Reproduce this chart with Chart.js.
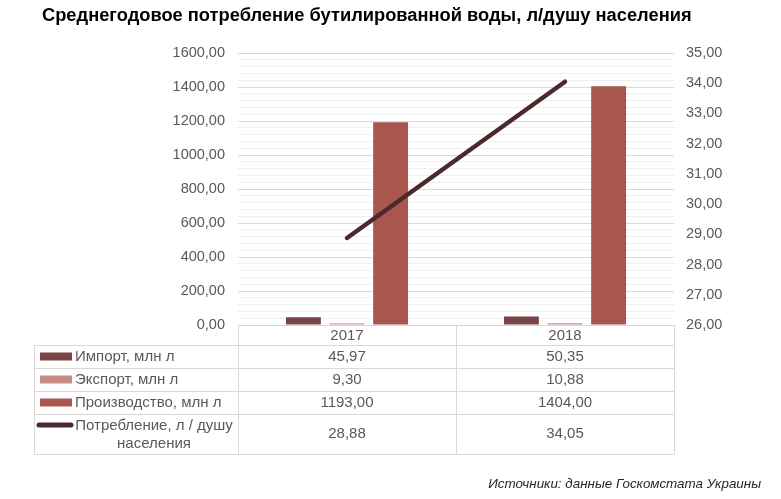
<!DOCTYPE html>
<html>
<head>
<meta charset="utf-8">
<style>
  html, body { margin: 0; padding: 0; background: #fff; }
  #wrap { position: relative; width: 781px; height: 499px; }
</style>
</head>
<body>
<div id="wrap"><canvas id="myChart" width="781" height="499"></canvas></div>

<script src="https://cdn.jsdelivr.net/npm/chart.js"></script>
<script>
  // data
  const years = ['2017', '2018'];
  const importVals = [45.97, 50.35];
  const exportVals = [9.30, 10.88];
  const productionVals = [1193.00, 1404.00];
  const consumptionVals = [28.88, 34.05];

  const seriesNames = ['Импорт, млн л', 'Экспорт, млн л', 'Производство, млн л', ['Потребление, л / душу', 'населения']];
  const titleText = 'Среднегодовое потребление бутилированной воды, л/душу населения';
  const sourceText = 'Источники: данные Госкомстата Украины';

  const colors = ['#7b4548', '#c98c85', '#a9564e', '#4a2a2c'];
  const FONT = '"Liberation Sans", Arial, sans-serif';
  const GRAY = '#595959';

  function fmt(v) {
    return v.toFixed(2).replace('.', ',');
  }

  // draws the title, the data table under the plot and the source note
  const tablePlugin = {
    id: 'dataTable',
    afterDraw(chart) {
      const ctx = chart.ctx;
      const area = chart.chartArea;
      const xs = chart.scales.x;
      const colW = area.width / years.length;
      const left = 34.5;
      const rows = [area.bottom, area.bottom + 20, area.bottom + 43, area.bottom + 66, area.bottom + 89, area.bottom + 129];
      const allVals = [importVals, exportVals, productionVals, consumptionVals];

      ctx.save();

      // title
      ctx.fillStyle = '#000';
      ctx.font = 'bold 18.3px ' + FONT;
      ctx.textAlign = 'left';
      ctx.textBaseline = 'middle';
      ctx.fillText(titleText, 42, 16);

      // grid of the table
      ctx.strokeStyle = '#d9d9d9';
      ctx.lineWidth = 1;
      ctx.beginPath();
      ctx.moveTo(area.left, rows[0] + 0.5);
      ctx.lineTo(area.right, rows[0] + 0.5);
      for (let r = 1; r < rows.length; r++) {
        ctx.moveTo(left, Math.round(rows[r]) + 0.5);
        ctx.lineTo(area.right, Math.round(rows[r]) + 0.5);
      }
      ctx.moveTo(left, rows[1]);
      ctx.lineTo(left, rows[5] + 0.5);
      for (let c = 0; c <= years.length; c++) {
        const x = Math.round(area.left + c * colW) + 0.5;
        ctx.moveTo(x, rows[0]);
        ctx.lineTo(x, rows[5] + 0.5);
      }
      ctx.stroke();

      // header
      ctx.fillStyle = GRAY;
      ctx.font = '15px ' + FONT;
      ctx.textAlign = 'center';
      years.forEach((y, i) => {
        ctx.fillText(y, xs.getPixelForValue(i), (rows[0] + rows[1]) / 2 + 1);
      });

      // rows
      for (let r = 0; r < 4; r++) {
        const cy = (rows[r + 1] + rows[r + 2]) / 2;
        // legend key
        if (r < 3) {
          ctx.fillStyle = colors[r];
          ctx.fillRect(40, cy - 4, 32, 8);
        } else {
          ctx.strokeStyle = colors[r];
          ctx.lineWidth = 5;
          ctx.lineCap = 'round';
          ctx.beginPath();
          ctx.moveTo(39, rows[4] + 11);
          ctx.lineTo(71, rows[4] + 11);
          ctx.stroke();
        }
        ctx.fillStyle = GRAY;
        const name = seriesNames[r];
        if (Array.isArray(name)) {
          ctx.textAlign = 'center';
          ctx.fillText(name[0], 154, rows[4] + 12);
          ctx.fillText(name[1], 154, rows[4] + 30);
        } else {
          ctx.textAlign = 'left';
          ctx.fillText(name, 75, cy);
        }
        ctx.textAlign = 'center';
        years.forEach((y, i) => {
          ctx.fillText(fmt(allVals[r][i]), xs.getPixelForValue(i), cy);
        });
      }

      // source
      ctx.fillStyle = '#262626';
      ctx.font = 'italic 13.4px ' + FONT;
      ctx.textAlign = 'right';
      ctx.fillText(sourceText, 761, 484);

      ctx.restore();
    }
  };

  const ctx = document.getElementById('myChart');
  new Chart(ctx, {
    type: 'bar',
    data: {
      labels: years,
      datasets: [
        { label: seriesNames[0], data: importVals, backgroundColor: colors[0], yAxisID: 'y', order: 2 },
        { label: seriesNames[1], data: exportVals, backgroundColor: colors[1], yAxisID: 'y', order: 2 },
        { label: seriesNames[2], data: productionVals, backgroundColor: colors[2], yAxisID: 'y', order: 2 },
        {
          type: 'line', label: 'Потребление, л / душу населения', data: consumptionVals,
          borderColor: colors[3], borderWidth: 4.5, borderCapStyle: 'round',
          pointRadius: 0, yAxisID: 'y1', order: 1
        }
      ]
    },
    options: {
      responsive: false,
      animation: false,
      categoryPercentage: 0.6,
      barPercentage: 0.8,
      layout: { padding: { top: 53, bottom: 174, left: 0, right: 0 } },
      plugins: {
        legend: { display: false },
        tooltip: { enabled: false },
        title: { display: false }
      },
      scales: {
        x: { display: false },
        y: {
          position: 'left',
          min: 0,
          max: 1600,
          afterFit(scale) { scale.width = 238; },
          border: { display: false },
          grid: {
            drawTicks: false,
            color: c => (c.tick && c.tick.value % 200 === 0) ? '#d9d9d9' : '#efefef'
          },
          ticks: {
            stepSize: 40,
            autoSkip: false,
            padding: 13,
            color: GRAY,
            font: { family: FONT, size: 14.5 },
            callback: v => (v % 200 === 0 ? fmt(v) : '')
          }
        },
        y1: {
          position: 'right',
          min: 26,
          max: 35,
          afterFit(scale) { scale.width = 107; },
          border: { display: false },
          grid: { display: false, drawTicks: false },
          ticks: {
            stepSize: 1,
            padding: 12,
            color: GRAY,
            font: { family: FONT, size: 14.5 },
            callback: v => fmt(v)
          }
        }
      }
    },
    plugins: [tablePlugin]
  });
</script>
</body>
</html>
